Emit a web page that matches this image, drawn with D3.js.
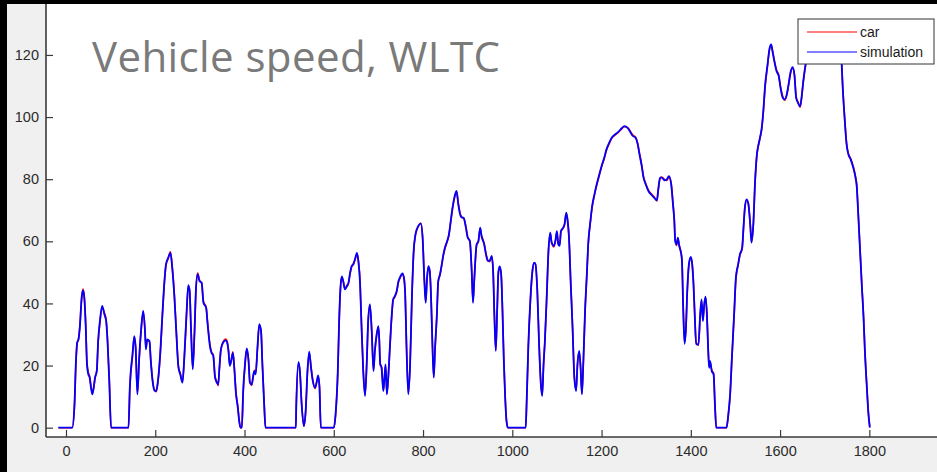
<!DOCTYPE html>
<html>
<head>
<meta charset="utf-8">
<script src="https://cdn.jsdelivr.net/npm/d3@7"></script>
<style>
  html, body { margin: 0; padding: 0; background: #000; }
  svg { display: block; }
  .tick text { font-family: "Liberation Sans", Arial, sans-serif; font-size: 14.5px; fill: #2b2b2b; }
</style>
</head>
<body>
<svg id="chart" width="937" height="472"></svg>
<script>
// WLTC drive cycle: time in seconds, speed in km/h
const seconds = [
  -17, 14, 19, 22, 25, 28, 31, 35, 38, 41, 44, 47, 50, 53, 56, 59, 62, 65, 69, 72, 76, 81, 86, 90, 93, 97, 101,
  140, 143, 149, 153, 156, 160, 164, 168, 173, 177, 179, 182, 187, 190, 194, 198, 202, 205, 211, 216, 220, 224,
  229, 234, 238, 243, 247, 252, 256, 261, 265, 270, 274, 277, 280, 284, 288, 291, 295, 299, 304, 308, 314, 317,
  323, 326, 330, 334, 338, 341, 344, 347, 352, 358, 361, 364, 367, 370, 374, 377, 381, 385, 388, 391, 394, 397,
  401, 405, 409, 412, 416, 420, 422, 425, 429, 433, 437, 440, 444, 447,
  515, 516, 521, 524, 528, 533, 537, 541, 545, 549, 553, 558, 562, 565, 568, 571, 600, 604, 609, 612, 615, 618,
  621, 625, 629, 633, 636, 640, 644, 648, 652, 655, 659, 662, 666, 670, 674, 677, 681, 685, 689, 692, 696, 700,
  702, 704, 707, 711, 713, 716, 719, 722, 726, 730, 733, 737, 741, 745, 748, 754, 757, 760, 763, 767, 771, 775,
  779, 783, 789, 795, 799, 803, 806, 809, 812, 815, 818, 821, 824, 827, 831, 834, 838, 842, 845, 849, 854, 858,
  862, 866, 870, 875, 879, 883, 887, 891, 896, 900, 905, 909, 912, 915,
  920, 924, 928, 931, 937, 941, 945, 949, 954, 957, 960, 963, 966, 969, 972, 975, 978, 981, 984, 987, 990, 1030,
  1032, 1036, 1040, 1045, 1049, 1052, 1056, 1060, 1064, 1067, 1070, 1073, 1077, 1081, 1085, 1088, 1093, 1097,
  1100, 1103, 1106, 1109, 1114, 1117, 1121, 1124, 1127, 1131, 1135, 1139, 1143, 1146, 1150, 1153, 1156, 1159,
  1163, 1167, 1170, 1175, 1179, 1184, 1189, 1194, 1200, 1206, 1211, 1217, 1223, 1230, 1238, 1245, 1251, 1259,
  1265, 1270, 1276, 1281, 1285, 1290, 1294, 1299, 1305, 1312, 1318, 1324, 1327, 1331, 1335, 1341, 1346, 1351,
  1356, 1360, 1363, 1365, 1368, 1371, 1374, 1377, 1380, 1383, 1386, 1389, 1392, 1396, 1400,
  1403, 1406, 1409, 1412, 1417, 1421, 1424, 1427, 1430, 1433, 1436, 1439, 1441, 1443, 1447, 1451, 1454, 1457,
  1480, 1484, 1488, 1492, 1497, 1501, 1506, 1510, 1515, 1518, 1521, 1525, 1529, 1533, 1536, 1540, 1544, 1548,
  1551, 1555, 1559, 1563, 1566, 1572, 1576, 1580, 1583, 1587, 1592, 1597, 1601, 1606, 1610, 1615, 1619, 1624,
  1628, 1632, 1636, 1640, 1645, 1648, 1652, 1656, 1660, 1670, 1685, 1700, 1715, 1727, 1734, 1738, 1740, 1743,
  1746, 1749, 1753, 1758, 1764, 1769, 1772, 1774, 1777, 1780, 1783, 1787, 1790, 1794, 1798, 1801
];

const simulation = [
  0, 0, 7.5, 20.4, 27.4, 28.4, 32.2, 41.8, 44.2, 41.8, 33.3, 20.4, 17.2, 16.1, 12.9, 10.7, 12.9, 16.1, 18.2, 27.9, 34.3, 39.2, 36.5, 34.3, 27.9, 15, 0,
  0, 12.9, 23.6, 29.5, 25.8, 10.7, 22.5, 31.1, 37.6, 31.1, 25.2, 28.4, 27.9, 21.5, 15, 12, 11.8, 13.9, 23.6, 36.5, 46.1, 52.6,
  54.7, 56.3, 51.5, 41.8, 31.1, 19.3, 17.2, 14.5, 22.5, 36.5, 45.9, 44, 32.2, 18.8, 31.1, 44, 49.4, 47.2, 46.7, 40.2, 38.6, 33.8,
  25.8, 24.1, 23.1, 16.1, 14.5, 13.9, 19.9, 25.2, 27.4, 28.1, 27.4, 24.7, 19.9, 21.5, 24.1, 19.3, 10.7, 6.4, 2.1, 0, 0, 11.8,
  20.4, 25.5, 21.5, 14.5, 13.9, 17.2, 18.2, 17.2, 25.8, 33.3, 31.1, 20.4, 7.5, 0,
  0, 7.5, 21.2, 18.2, 7.5, 0.5, 5.4, 18.2, 24.5, 19.3, 15, 12.9, 15, 16.8, 12.9, 0, 0, 4.3, 18.2, 34.3, 45.1, 48.7,
  47.2, 44.5, 45.6, 46.7, 49.4, 52, 52.6, 54.5, 56.3, 53.7, 46.1, 33.3, 18.2, 10.2, 21.5, 34.3, 39.7, 31.1, 18.2, 24.7, 30, 32.7,
  27.9, 20.4, 19.3, 11.8, 15, 20.4, 10.7, 16.1, 26.8, 36.5, 41.3, 42.4, 44, 47.2, 48.3, 49.7, 48.3, 42.9, 25.8, 10.7, 20.4, 41.8,
  56.9, 62.2, 64.9, 65.7, 61.2, 47.2, 40.2, 48.3, 52, 50.4, 41.8, 26.8, 16.1, 25.8, 36.5, 47.2, 49.4, 52.6, 55.3, 57.9, 60.1, 62.2,
  66.5, 70.8, 74, 76.2, 71.9, 68.7, 67.6, 67.6, 64.4, 61.2, 60.1, 50.4, 40.2, 48.3,
  59, 60.1, 64.4, 61.7, 59, 55.8, 53.7, 53.7, 55.3, 50.4, 35.4, 24.7, 37.6, 50.4, 51.9, 49.4, 37.6, 21.5, 9.7, 2.1, 0, 0,
  7.5, 26.8, 39.7, 50.4, 53.1, 52.6, 44, 26.8, 13.9, 10.2, 20.4, 27.9, 41.8, 56.9, 62.8, 59.6, 58.5, 60.6,
  63.3, 59, 58.5, 63.3, 64.4, 65.5, 69.2, 66.5, 61.2, 46.1, 32.2, 16.1, 11.8, 20.4, 24.7, 19.3, 10.7, 20.4,
  37.6, 49.4, 59, 66.5, 71.4, 75.1, 78.3, 81, 84.2, 86.9, 89.6, 91.7, 93.4, 94.4, 95.3, 96.4, 97.1, 96.4,
  95, 93.9, 93.4, 91.2, 88, 84.2, 80.5, 78.3, 76.2, 74.9, 74, 73.2, 76.7, 80.5, 80.5, 79.6, 79.9, 81,
  78.3, 71.9, 66.5, 60.1, 59, 61.2, 58.5, 56.9, 54, 38, 27, 32, 44, 53, 55,
  52.6, 46.1, 35.4, 26.8, 26.8, 36.5, 41.3, 34.3, 39.7, 42.2, 36.5, 24.7, 19.3, 21.5, 18.2, 17.2, 7.5, 0,
  0, 4.3, 10.7, 22.5, 36.5, 48.3, 52.6, 55.8, 57.9, 64.4, 70.8, 73.5, 71.9, 65.5, 59.6, 65.5, 79.4, 88,
  90.7, 93.4, 96.6, 103, 109.4, 117, 121.8, 123.4, 121.2, 118, 114.8, 113.2, 109.4, 106.2, 105.7, 107.3, 110.5, 114.8,
  116.1, 113.7, 106.2, 104.6, 103.5, 106.2, 111.6, 115.9, 119.1, 121, 123, 125, 128, 131, 125, 117, 110.5, 103,
  96.6, 91.2, 88, 86.4, 83.7, 80.5, 77.3, 71.9, 63.3, 54.7, 46.1, 35.4, 24.7, 13.9, 4.3, 0
];

const car = [
  0, 0, 6.8, 19.6, 27.0, 28.6, 32.8, 41.2, 44.6, 42.3, 34.0, 21.2, 17.8, 16.6, 13.4, 11.0, 12.6, 15.8, 18.6, 27.2, 33.8, 38.8, 37.0, 34.6, 28.5, 15.6, 0,
  0, 12.2, 23.0, 29.1, 26.2, 11.2, 21.8, 30.6, 37.2, 31.5, 25.8, 28.2, 27.6, 21.9, 15.4, 12.3, 11.6, 13.5, 23.0, 35.9, 45.6, 52.2,
  54.4, 56.6, 52.0, 42.4, 31.7, 19.8, 17.6, 14.8, 22.0, 36.0, 45.5, 44.4, 32.8, 19.2, 30.6, 43.6, 49.8, 47.6, 46.4, 40.6, 38.9, 34.3,
  26.3, 24.4, 23.4, 16.5, 14.8, 13.6, 19.4, 24.8, 27.6, 28.5, 27.8, 25.1, 20.3, 21.2, 24.4, 19.7, 11.2, 6.9, 2.6, 0, 0, 11.2,
  19.9, 25.2, 21.9, 14.9, 13.6, 16.8, 18.5, 17.6, 25.3, 33.0, 31.5, 20.9, 8.0, 0,
  0, 6.9, 20.6, 18.6, 7.9, 0.5, 5.0, 17.6, 24.1, 19.7, 15.4, 12.6, 14.7, 16.5, 13.3, 0, 0, 3.9, 17.6, 33.8, 44.7, 48.4,
  47.5, 44.8, 45.3, 46.4, 49.0, 51.7, 52.9, 54.2, 56.0, 54.0, 46.6, 33.8, 18.7, 10.5, 21.0, 33.9, 39.4, 31.5, 18.6, 24.3, 29.6, 32.4,
  28.3, 20.8, 19.6, 12.1, 14.7, 20.0, 11.0, 15.8, 26.3, 36.1, 41.0, 42.1, 43.7, 46.9, 48.0, 49.4, 48.6, 43.3, 26.3, 11.1, 20.0, 41.3,
  56.5, 61.9, 64.6, 65.9, 61.6, 47.7, 40.6, 47.9, 51.7, 50.7, 42.3, 27.2, 16.4, 25.4, 36.0, 46.8, 49.1, 52.3, 55.0, 57.6, 59.8, 62.0,
  66.2, 70.4, 73.6, 76.0, 72.3, 69.0, 67.8, 67.4, 64.8, 61.5, 59.8, 50.8, 40.6, 47.8,
  58.6, 59.8, 64.1, 62.0, 59.3, 56.1, 54.0, 53.4, 55.0, 50.8, 35.9, 25.1, 37.1, 50.0, 51.6, 49.7, 38.1, 22.0, 10.1, 2.4, 0, 0,
  7.0, 26.2, 39.3, 50.1, 52.9, 52.9, 44.5, 27.3, 14.3, 10.5, 20.0, 27.5, 41.3, 56.5, 62.5, 59.9, 58.2, 60.3,
  63.0, 59.3, 58.8, 63.0, 64.2, 65.2, 68.9, 66.8, 61.6, 46.6, 32.7, 16.6, 12.1, 20.0, 24.4, 19.7, 11.1, 20.0,
  37.1, 49.0, 58.6, 66.2, 71.1, 74.8, 78.0, 80.7, 84.0, 86.6, 89.3, 91.4, 93.2, 94.2, 95.1, 96.2, 96.9, 96.6,
  95.3, 94.2, 93.6, 91.5, 88.4, 84.6, 80.9, 78.6, 76.5, 75.2, 74.3, 73.0, 76.3, 80.2, 80.7, 79.9, 79.6, 80.7,
  78.7, 72.4, 67.0, 60.5, 58.7, 60.8, 58.8, 57.2, 54.4, 38.6, 27.4, 31.6, 43.5, 52.6, 54.7,
  53.0, 46.6, 35.9, 27.3, 26.5, 36.0, 40.9, 34.8, 39.2, 41.9, 36.9, 25.2, 19.7, 21.2, 18.5, 17.5, 8.0, 0,
  0, 3.9, 10.2, 22.0, 36.0, 47.9, 52.3, 55.5, 57.6, 64.0, 70.4, 73.2, 72.2, 65.9, 59.9, 65.0, 79.0, 87.6,
  90.4, 93.1, 96.3, 102.6, 109.0, 116.6, 121.5, 123.1, 121.5, 118.4, 115.2, 113.5, 109.8, 106.6, 105.4, 107.0, 110.2, 114.4,
  115.8, 114.0, 106.6, 104.9, 103.2, 105.8, 111.2, 115.5, 118.8, 120.8, 122.8, 124.8, 127.7, 130.8, 125.4, 117.5, 111.0, 103.5,
  97.0, 91.6, 88.3, 86.7, 84.1, 80.9, 77.8, 72.4, 63.8, 55.2, 46.6, 35.9, 25.2, 14.4, 4.8, 0.4
];

const xTicks = [0, 200, 400, 600, 800, 1000, 1200, 1400, 1600, 1800];
const yTicks = [0, 20, 40, 60, 80, 100, 120];
const seriesNames = ["car", "simulation"];
const seriesColors = ["#ff0000", "#0000ff"];
const titleText = "Vehicle speed, WLTC";

const W = 937, H = 472;
const plot = { left: 46, top: 4, right: 937, bottom: 437 };

const svg = d3.select("#chart");

// figure frame: dark outer edge, grey figure background, white axes area
svg.append("rect").attr("width", W).attr("height", H).attr("fill", "#000");
svg.append("rect").attr("x", 7).attr("y", 4).attr("width", W - 7).attr("height", H - 4).attr("fill", "#f0f0f0");
svg.append("rect")
  .attr("x", plot.left).attr("y", plot.top)
  .attr("width", plot.right - plot.left).attr("height", plot.bottom - plot.top)
  .attr("fill", "#ffffff");

const x = d3.scaleLinear().domain([-44.8, 1951.6]).range([plot.left, plot.right]);
const y = d3.scaleLinear().domain([-3, 136.4]).range([plot.bottom, plot.top]);

const series = [car, simulation].map((vals, i) => ({
  name: seriesNames[i],
  color: seriesColors[i],
  points: seconds.map((t, k) => [t, vals[k]])
}));

const line = d3.line().x(d => x(d[0])).y(d => y(d[1])).curve(d3.curveMonotoneX);

const lines = svg.append("g");
series.forEach((s, i) => {
  lines.append("path")
    .datum(s.points)
    .attr("fill", "none")
    .attr("stroke", s.color)
    .attr("stroke-width", i === 0 ? 1.6 : 1.8)
    .attr("stroke-linejoin", "round")
    .attr("d", line);
});

// axes with inward ticks
const xAxis = svg.append("g")
  .attr("transform", `translate(0,${plot.bottom})`)
  .call(d3.axisBottom(x).tickValues(xTicks).tickSize(-7).tickPadding(9).tickFormat(d3.format("d")));
const yAxis = svg.append("g")
  .attr("transform", `translate(${plot.left},0)`)
  .call(d3.axisLeft(y).tickValues(yTicks).tickSize(-7).tickPadding(7).tickFormat(d3.format("d")));
[xAxis, yAxis].forEach(g => {
  g.select(".domain").remove();
  g.selectAll(".tick line").attr("stroke", "#3a3a3a").attr("stroke-width", 1.2);
});

svg.append("line")
  .attr("x1", plot.left).attr("x2", plot.right)
  .attr("y1", plot.bottom).attr("y2", plot.bottom)
  .attr("stroke", "#3a3a3a").attr("stroke-width", 1.6);
svg.append("line")
  .attr("x1", plot.left).attr("x2", plot.left)
  .attr("y1", plot.top).attr("y2", plot.bottom)
  .attr("stroke", "#3a3a3a").attr("stroke-width", 1.6);

// title inside the axes
svg.append("text")
  .attr("x", 92).attr("y", 72)
  .attr("font-family", "'Open Sans', sans-serif")
  .attr("font-size", 42)
  .attr("letter-spacing", 0.4)
  .attr("fill", "#7a7a7a")
  .text(titleText);

// legend
const legend = svg.append("g").attr("transform", "translate(798,19)");
legend.append("rect")
  .attr("width", 136).attr("height", 45)
  .attr("fill", "#ffffff").attr("stroke", "#333").attr("stroke-width", 1);
series.forEach((s, i) => {
  const ly = 13 + i * 20;
  legend.append("line")
    .attr("x1", 9).attr("x2", 59).attr("y1", ly).attr("y2", ly)
    .attr("stroke", s.color).attr("stroke-width", 1.2);
  legend.append("text")
    .attr("x", 62).attr("y", ly + 4.5)
    .attr("font-family", "'Liberation Sans', Arial, sans-serif")
    .attr("font-size", 14)
    .attr("fill", "#1a1a1a")
    .text(s.name);
});
</script>
</body>
</html>
